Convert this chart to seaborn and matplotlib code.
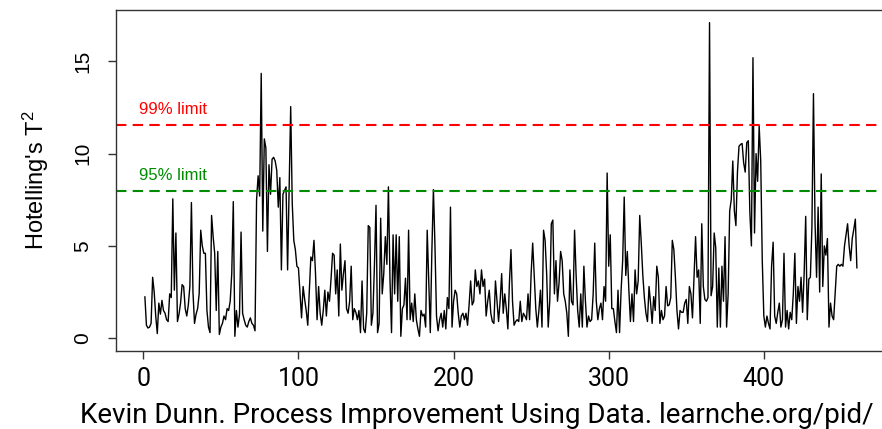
import numpy as np
import pandas as pd
import matplotlib
matplotlib.use("Agg")
import matplotlib.pyplot as plt
import seaborn as sns

# ---- data ----
t2_values = [
    2.25, 0.7, 0.55, 0.6, 0.8, 3.3, 2.5, 1.2, 0.25, 1.9,
    1.3, 2.05, 1.5, 1.35, 1.0, 0.9, 2.4, 2.2, 7.55, 2.6,
    5.7, 0.9, 1.3, 1.9, 2.9, 2.8, 1.6, 1.2, 1.8, 2.8,
    7.35, 2.5, 0.8, 1.3, 1.6, 2.4, 5.85, 5.0, 4.6, 4.6,
    1.5, 0.6, 0.3, 6.65, 5.5, 4.6, 1.5, 4.7, 0.2, 0.6,
    0.8, 1.2, 1.0, 1.6, 1.5, 2.0, 3.5, 7.4, 0.1, 1.5,
    0.6, 1.3, 5.75, 1.35, 1.0, 0.7, 0.6, 0.9, 1.1, 0.8,
    0.7, 0.4, 7.5, 8.8, 7.7, 14.35, 5.8, 10.8, 10.3, 4.7,
    9.4, 7.8, 9.7, 9.8, 9.6, 9.1, 7.1, 8.7, 3.7, 7.8,
    8.0, 8.2, 3.7, 8.0, 12.55, 7.3, 5.3, 4.8, 3.9, 3.8,
    2.4, 1.1, 2.8, 2.1, 1.5, 0.7, 2.5, 4.4, 4.2, 5.3,
    3.5, 1.0, 2.8, 1.35, 0.7, 1.5, 2.6, 1.2, 2.5, 2.0,
    3.2, 4.6, 4.5, 2.4, 3.7, 1.2, 5.1, 2.6, 3.5, 4.2,
    1.6, 1.35, 2.0, 3.9, 1.0, 1.6, 1.4, 1.0, 1.5, 0.3,
    3.1, 0.5, 0.3, 1.35, 6.1, 6.0, 0.7, 1.35, 4.0, 7.2,
    0.3, 0.8, 6.5, 2.4, 3.5, 5.5, 4.0, 8.2, 3.2, 0.3,
    5.6, 2.4, 5.6, 2.0, 5.5, 0.1, 1.6, 1.8, 3.25, 1.0,
    5.85, 1.0, 1.9, 0.9, 2.4, 1.0, 0.5, 0.1, 1.5, 1.2,
    1.3, 0.6, 5.85, 3.0, 0.3, 4.7, 8.05, 5.0, 1.2, 0.4,
    1.0, 1.35, 0.6, 1.5, 0.5, 2.2, 1.6, 7.1, 0.6, 2.0,
    2.6, 2.4, 1.35, 0.6, 1.2, 1.35, 1.0, 1.35, 0.7, 1.8,
    3.1, 1.8, 2.0, 3.7, 2.8, 3.1, 2.4, 3.7, 2.8, 3.2,
    1.2, 2.0, 2.6, 1.35, 0.9, 0.8, 3.1, 2.0, 0.9, 2.0,
    3.5, 1.35, 2.4, 1.6, 0.5, 3.0, 4.8, 2.0, 0.7, 0.9,
    1.0, 0.9, 2.0, 0.9, 1.35, 1.2, 1.0, 2.4, 1.0, 3.5,
    5.15, 3.4, 1.6, 0.6, 1.5, 2.6, 0.6, 5.85, 5.3, 3.5,
    0.6, 2.0, 6.2, 6.4, 2.4, 4.2, 2.0, 3.0, 4.7, 4.2,
    2.4, 2.0, 1.35, 0.1, 3.7, 2.0, 1.8, 5.85, 3.4, 1.5,
    0.6, 2.4, 0.6, 3.9, 2.0, 0.6, 1.2, 0.9, 1.0, 2.4,
    5.15, 2.0, 1.0, 1.6, 1.9, 1.0, 2.8, 2.0, 8.95, 3.9,
    5.6, 1.6, 1.6, 0.9, 0.3, 2.6, 0.3, 2.6, 4.2, 7.65,
    3.4, 4.7, 2.6, 0.9, 2.4, 0.9, 3.7, 2.4, 3.1, 6.65,
    5.15, 3.4, 2.2, 1.35, 0.9, 2.8, 1.9, 0.8, 2.25, 1.5,
    3.9, 3.3, 0.8, 1.5, 1.0, 1.2, 2.8, 1.75, 1.8, 2.2,
    5.3, 4.8, 3.3, 1.5, 0.5, 1.5, 1.4, 1.4, 1.9, 2.1,
    0.8, 2.8, 2.4, 1.1, 3.3, 5.5, 3.3, 3.7, 0.8, 6.2,
    2.8, 2.1, 2.0, 2.2, 17.1, 2.3, 2.8, 5.7, 4.9, 0.6,
    3.8, 0.6, 3.9, 2.0, 5.5, 0.6, 2.4, 6.9, 7.5, 9.6,
    6.9, 6.1, 9.0, 10.4, 10.5, 10.55, 9.5, 9.0, 10.6, 10.7,
    6.8, 5.0, 15.2, 5.7, 10.0, 8.5, 11.5, 9.6, 4.2, 1.2,
    0.6, 1.2, 0.8, 0.5, 3.9, 5.2, 1.2, 0.8, 1.4, 1.9,
    0.6, 1.0, 4.6, 0.6, 1.5, 0.5, 1.4, 1.0, 2.4, 4.6,
    0.8, 2.8, 2.0, 3.3, 1.4, 3.5, 6.6, 1.0, 3.2, 3.3,
    6.0, 13.25, 6.3, 3.3, 7.1, 2.5, 8.9, 2.8, 5.0, 4.5,
    5.4, 0.6, 1.9, 1.2, 1.0, 2.5, 3.9, 4.0, 3.9, 4.0,
    3.9, 5.0, 5.6, 6.2, 5.0, 4.2, 5.4, 5.9, 6.45, 3.8,
]
sample = list(range(1, len(t2_values) + 1))

limit_levels = [11.55, 7.95]
limit_labels = ["99% limit", "95% limit"]
limit_colors = ["#FF0000", "#008B00"]

x_ticks = [0, 100, 200, 300, 400]
y_ticks = [0, 5, 10, 15]
caption = "Kevin Dunn. Process Improvement Using Data. learnche.org/pid/"

df = pd.DataFrame({"sample": sample, "T2": t2_values})

# ---- figure ----
sns.set_style("white")
plt.rcParams["font.family"] = ["Liberation Sans", "DejaVu Sans"]
plt.rcParams["mathtext.fontset"] = "custom"
plt.rcParams["mathtext.rm"] = "Liberation Sans"
plt.rcParams["mathtext.it"] = "Liberation Sans"
plt.rcParams["text.color"] = "black"
plt.rcParams["axes.labelcolor"] = "black"
plt.rcParams["xtick.color"] = "black"
plt.rcParams["ytick.color"] = "black"

fig = plt.figure(figsize=(8.82, 4.29), dpi=100)
ax = fig.add_axes([0.1319, 0.1825, 0.872, 0.794])

sns.lineplot(data=df, x="sample", y="T2", color="black", linewidth=1.0,
             estimator=None, ax=ax)

for lvl, lab, col in zip(limit_levels, limit_labels, limit_colors):
    ax.axhline(lvl, color=col, linestyle=(0, (5, 3)), linewidth=1.5)
    ax.text(-3, lvl + 0.86, lab, color=col, fontsize=12, ha="left", va="center")

ax.set_xlim(-17.4, 478.4)
ax.set_ylim(-0.68, 17.78)
ax.set_xticks(x_ticks)
ax.set_yticks(y_ticks)
ax.set_xlabel("")
ax.set_ylabel("Hotelling's T$\\mathrm{^2}$", fontsize=17, labelpad=16,
              color="black")

for s in ["left", "bottom", "top", "right"]:
    ax.spines[s].set_visible(True)
    ax.spines[s].set_color("#333333")
    ax.spines[s].set_linewidth(1.0)

ax.tick_params(axis="both", direction="out", length=5.5, width=1.0,
               color="#333333", labelcolor="black", left=True, bottom=True)
ax.tick_params(axis="y", labelsize=15, labelrotation=90, pad=12)
ax.tick_params(axis="x", labelsize=18, pad=6)
for lbl in ax.get_yticklabels():
    lbl.set_va("center")
for lbl in ax.get_xticklabels():
    lbl.set_fontfamily("Roboto")

fig.text(0.541, 0.014, caption, ha="center", va="baseline", fontsize=20,
         family="Roboto", fontweight="normal", color="black")

fig.savefig("out.png", dpi=100)
